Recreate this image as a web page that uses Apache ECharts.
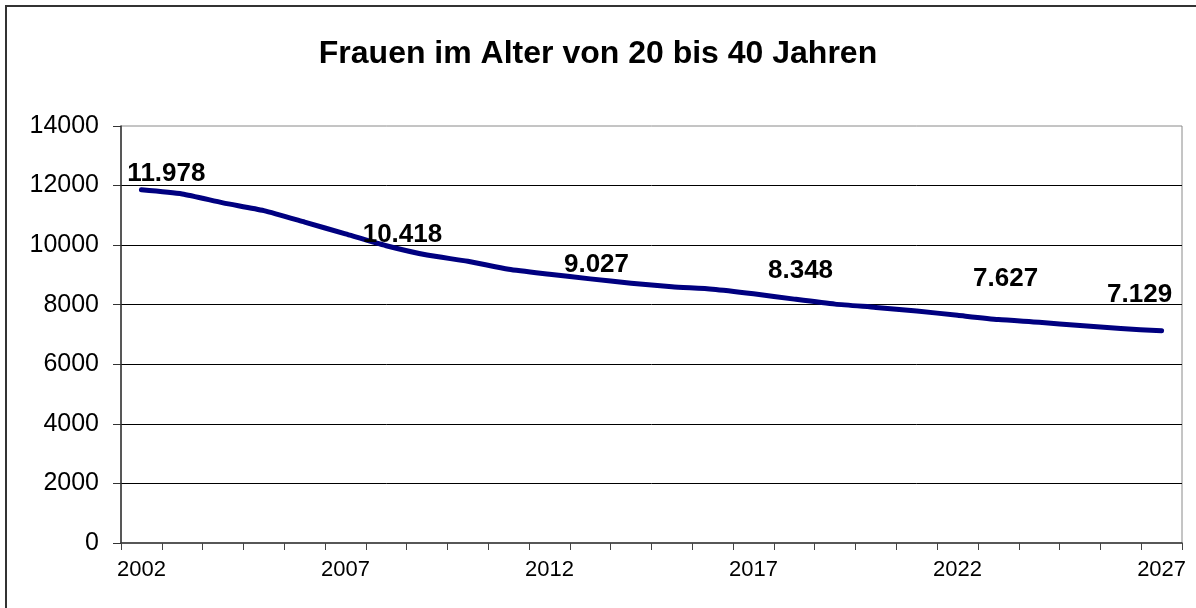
<!DOCTYPE html>
<html>
<head>
<meta charset="utf-8">
<script src="https://cdn.jsdelivr.net/npm/echarts@6/dist/echarts.min.js"></script>
<style>
html,body{margin:0;padding:0;background:#fff;}
#chart{width:1196px;height:608px;}
</style>
</head>
<body>
<div id="chart"></div>
<script>
var titleText = 'Frauen im Alter von 20 bis 40 Jahren';
var years = ['2002','2003','2004','2005','2006','2007','2008','2009','2010','2011','2012','2013','2014','2015','2016','2017','2018','2019','2020','2021','2022','2023','2024','2025','2026','2027'];
var women = [11860, 11720, 11420, 11160, 10775, 10375, 9980, 9667, 9457, 9190, 9023, 8867, 8723, 8600, 8520, 8367, 8187, 8020, 7910, 7790, 7643, 7500, 7410, 7300, 7200, 7123];
var labelYears = ['2002','2007','2012','2017','2022','2027'];
var labelValues = [11978, 10418, 9027, 8348, 7627, 7129];
var yTicks = [0, 2000, 4000, 6000, 8000, 10000, 12000, 14000];

// label placement (styling only): shift of label centre from its point
var labelOffsets = [[25,-12],[57,2],[47,-9],[47,-24],[48,-37],[-22,-36]];

function fmtDE(v){
  var s = String(Math.round(v));
  return s.replace(/\B(?=(\d{3})+(?!\d))/g, '.');
}

var labelData = labelYears.map(function(y, i){
  return [y, labelValues[i]];
});

var chart = echarts.init(document.getElementById('chart'), null, {renderer:'canvas'});
chart.setOption({
  animation: false,
  backgroundColor: '#ffffff',
  textStyle: { fontFamily: 'Liberation Sans, Arial, sans-serif' },
  title: {
    text: titleText,
    left: 'center',
    top: 33,
    textStyle: { fontFamily: 'Liberation Sans, Arial, sans-serif', fontSize: 32, fontWeight: 'bold', color: '#000' }
  },
  graphic: [{
    type: 'rect',
    shape: { x: 6, y: 6, width: 1300, height: 700 },
    style: { fill: 'none', stroke: '#333', lineWidth: 2 },
    silent: true, z: 100
  }],
  grid: {
    left: 121, right: 14, top: 126, bottom: 65,
    show: true, borderColor: '#8a8a8a', borderWidth: 1, backgroundColor: 'transparent'
  },
  xAxis: {
    type: 'category',
    data: years,
    boundaryGap: true,
    axisLine: { show: true, lineStyle: { color: '#333', width: 1.5 } },
    axisTick: { show: true, interval: 0, length: 7, lineStyle: { color: '#444' } },
    axisLabel: { interval: 4, fontSize: 22, color: '#000', margin: 16, fontFamily: 'Liberation Sans, Arial, sans-serif' },
    splitLine: { show: false }
  },
  yAxis: {
    type: 'value',
    min: yTicks[0], max: yTicks[yTicks.length-1], interval: yTicks[1]-yTicks[0],
    axisLine: { show: true, lineStyle: { color: '#333', width: 1.5 } },
    axisTick: { show: true, length: 8, lineStyle: { color: '#333' } },
    axisLabel: { fontSize: 25, color: '#000', margin: 22, fontFamily: 'Liberation Sans, Arial, sans-serif',
      formatter: function(v){ return String(v); } },
    splitLine: { show: true, showMinLine: false, showMaxLine: false, lineStyle: { color: '#000', width: 1 } }
  },
  series: [{
    name: 'Frauen 20-40',
    type: 'line',
    data: women,
    symbol: 'none',
    smooth: 0.2,
    lineStyle: { color: '#000080', width: 5, cap: 'round', join: 'round' },
    z: 3
  }, {
    name: 'labels',
    type: 'scatter',
    data: labelData,
    symbolSize: 1,
    itemStyle: { color: '#000080', opacity: 0 },
    label: {
      show: true,
      position: 'top',
      distance: 0,
      opacity: 1,
      formatter: function(p){ return fmtDE(p.value[1]); },
      fontSize: 26,
      fontWeight: 'bold',
      color: '#000000',
      fontFamily: 'Liberation Sans, Arial, sans-serif'
    },
    labelLayout: function(params){
      var o = labelOffsets[params.dataIndex];
      var r = params.labelRect;
      var cy = r.y + r.height / 2;
      var py = params.rect.y + params.rect.height / 2;
      var cx = r.x + r.width / 2;
      var px = params.rect.x + params.rect.width / 2;
      return { dx: o[0] - (cx - px), dy: o[1] - (cy - py), hideOverlap: false };
    },
    z: 5
  }]
});
</script>
</body>
</html>
